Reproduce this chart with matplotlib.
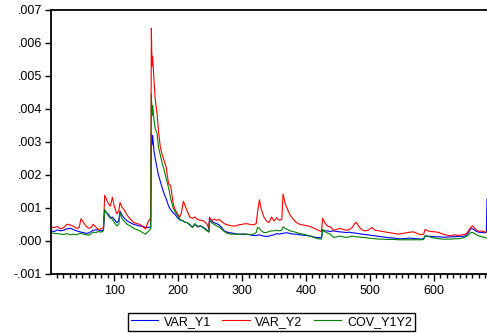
import matplotlib
matplotlib.use('Agg')
import matplotlib.pyplot as plt
from matplotlib.ticker import MultipleLocator, FuncFormatter

plt.rcParams['font.family'] = ['Liberation Sans', 'DejaVu Sans']

# observation index (shared by all three series)
obs = [1, 6, 11, 16, 21, 26, 31, 36, 41, 45, 48, 52, 56, 60, 64, 67, 71, 75, 79, 83,
       85, 88, 91, 94, 97, 100, 104, 107, 109, 112, 116, 120, 125, 130, 135, 140, 145, 149, 153, 156,
       157, 158, 159, 160, 162, 164, 167, 169, 172, 175, 178, 181, 185, 188, 192, 195, 198, 202, 205, 208,
       211, 214, 218, 222, 226, 230, 235, 240, 245, 248, 249, 252, 256, 260, 264, 268, 272, 277, 282, 288,
       294, 300, 306, 312, 318, 322, 324, 327, 330, 334, 338, 342, 346, 350, 354, 358, 362, 364, 367, 371,
       375, 380, 385, 390, 395, 400, 405, 410, 415, 419, 424, 426, 429, 433, 438, 443, 448, 453, 458, 463,
       468, 472, 476, 479, 482, 487, 492, 497, 503, 508, 514, 520, 526, 532, 538, 544, 550, 556, 562, 568,
       574, 580, 584, 586, 590, 596, 602, 608, 614, 620, 626, 632, 638, 644, 650, 654, 658, 661, 665, 670,
       675, 680, 682, 683]

# values in units of 1e-3
var_y2 = [.42, .40, .43, .36, .40, .50, .48, .44, .38, .40, .67, .55, .44, .38, .40, .50, .42, .34, .36, .40,
          1.38, 1.25, 1.12, 1.05, 1.32, 1.05, .82, .90, 1.16, 1.02, .92, .78, .66, .56, .52, .50, .42, .36, .58, .66,
          .62, 6.45, 5.30, 5.60, 4.90, 4.30, 3.85, 3.35, 2.85, 2.60, 2.42, 2.25, 1.72, 1.68, 1.15, .95, .85, .70, .85, 1.20,
          1.05, .90, .72, .68, .72, .65, .62, .60, .50, .38, .72, .60, .66, .62, .65, .58, .52, .48, .46, .44,
          .48, .50, .52, .50, .48, .52, .85, 1.24, .95, .72, .60, .55, .72, .60, .70, .62, .65, 1.42, 1.15, .95,
          .78, .65, .55, .50, .48, .46, .44, .40, .36, .32, .28, .68, .56, .45, .42, .32, .34, .38, .34, .32,
          .34, .40, .52, .56, .44, .34, .30, .32, .40, .32, .30, .28, .26, .24, .22, .20, .22, .24, .26, .27,
          .22, .18, .20, .34, .30, .28, .27, .25, .20, .17, .15, .18, .16, .18, .20, .30, .42, .45, .35, .28,
          .30, .26, .27, .28]

var_y1 = [.30, .28, .33, .30, .32, .36, .38, .34, .30, .28, .26, .25, .22, .24, .28, .32, .33, .33, .30, .32,
          .90, .85, .80, .70, .72, .65, .55, .60, .90, .78, .68, .60, .55, .50, .47, .45, .44, .40, .40, .42,
          .40, 3.25, 2.90, 3.20, 2.75, 2.50, 2.20, 2.00, 1.80, 1.60, 1.42, 1.28, 1.05, .95, .85, .80, .72, .64, .62, .60,
          .56, .55, .48, .42, .50, .42, .45, .40, .32, .28, .70, .60, .55, .52, .48, .40, .30, .26, .24, .22,
          .20, .20, .20, .18, .16, .16, .17, .18, .16, .14, .13, .14, .17, .18, .22, .20, .22, .22, .24, .24,
          .22, .20, .20, .18, .17, .16, .15, .13, .10, .10, .09, .30, .30, .30, .28, .30, .28, .27, .26, .25,
          .26, .24, .24, .22, .22, .20, .19, .18, .16, .15, .13, .12, .10, .09, .08, .06, .06, .07, .08, .07,
          .06, .05, .06, .14, .14, .13, .12, .12, .11, .11, .12, .12, .13, .13, .15, .25, .38, .36, .30, .26,
          .25, .24, .26, 1.25]

cov_y1y2 = [.25, .22, .22, .20, .19, .22, .18, .20, .18, .22, .22, .20, .18, .17, .22, .26, .25, .28, .26, .30,
            .95, .85, .75, .68, .65, .55, .45, .50, .85, .68, .58, .50, .45, .38, .34, .30, .24, .20, .28, .35,
            .36, 4.45, 3.80, 4.10, 3.70, 3.40, 3.25, 2.85, 2.60, 2.35, 2.15, 1.90, 1.60, 1.30, 1.00, .88, .80, .66, .62, .60,
            .56, .55, .50, .40, .52, .44, .45, .38, .30, .26, .62, .55, .50, .45, .42, .35, .28, .22, .20, .20,
            .20, .20, .20, .19, .20, .25, .40, .38, .30, .25, .25, .28, .30, .30, .32, .30, .32, .42, .38, .34,
            .30, .28, .25, .22, .20, .18, .15, .12, .08, .06, .05, .35, .28, .24, .20, .10, .12, .14, .12, .10,
            .12, .14, .13, .12, .12, .10, .10, .08, .07, .06, .05, .05, .04, .04, .04, .03, .03, .03, .03, .03,
            .03, .03, .04, .15, .14, .10, .08, .06, .05, .05, .05, .06, .06, .08, .12, .18, .25, .25, .20, .15,
            .12, .10, .08, .08]

series = [('VAR_Y1', var_y1, '#0000ff'), ('VAR_Y2', var_y2, '#ff0000'), ('COV_Y1Y2', cov_y1y2, '#008000')]

fig = plt.figure(figsize=(4.87, 3.33), dpi=100)
ax = fig.add_axes([0.1047, 0.178, 0.8953, 0.792])

for name, vals, col in series:
    ax.plot(obs, [v / 1000 for v in vals], color=col, lw=0.8, label=name)

ax.set_xlim(1, 683)
ax.set_ylim(-0.001, 0.007)
ax.yaxis.set_major_locator(MultipleLocator(0.001))
ax.yaxis.set_major_formatter(FuncFormatter(lambda v, p: f'{v:.3f}'.replace('0.', '.', 1)))
ax.xaxis.set_major_locator(MultipleLocator(100))
ax.xaxis.set_minor_locator(MultipleLocator(10))

for s in ['top', 'left', 'bottom']:
    ax.spines[s].set_linewidth(1.3)
ax.spines['right'].set_visible(False)
ax.tick_params(axis='both', which='major', labelsize=9, width=1, length=4.5, pad=2, direction='out')
ax.tick_params(axis='x', which='minor', width=1, length=3, direction='out')
ax.tick_params(axis='x', which='major', length=5, pad=3)

leg = fig.legend(loc='center', bbox_to_anchor=(0.557, 0.034), ncol=3, fontsize=9,
                 frameon=True, fancybox=False, edgecolor='black', framealpha=1,
                 handlelength=2.2, handletextpad=0.45, columnspacing=0.9, borderpad=0.25)
leg.get_frame().set_linewidth(1.0)

fig.savefig('out.png', dpi=100)
